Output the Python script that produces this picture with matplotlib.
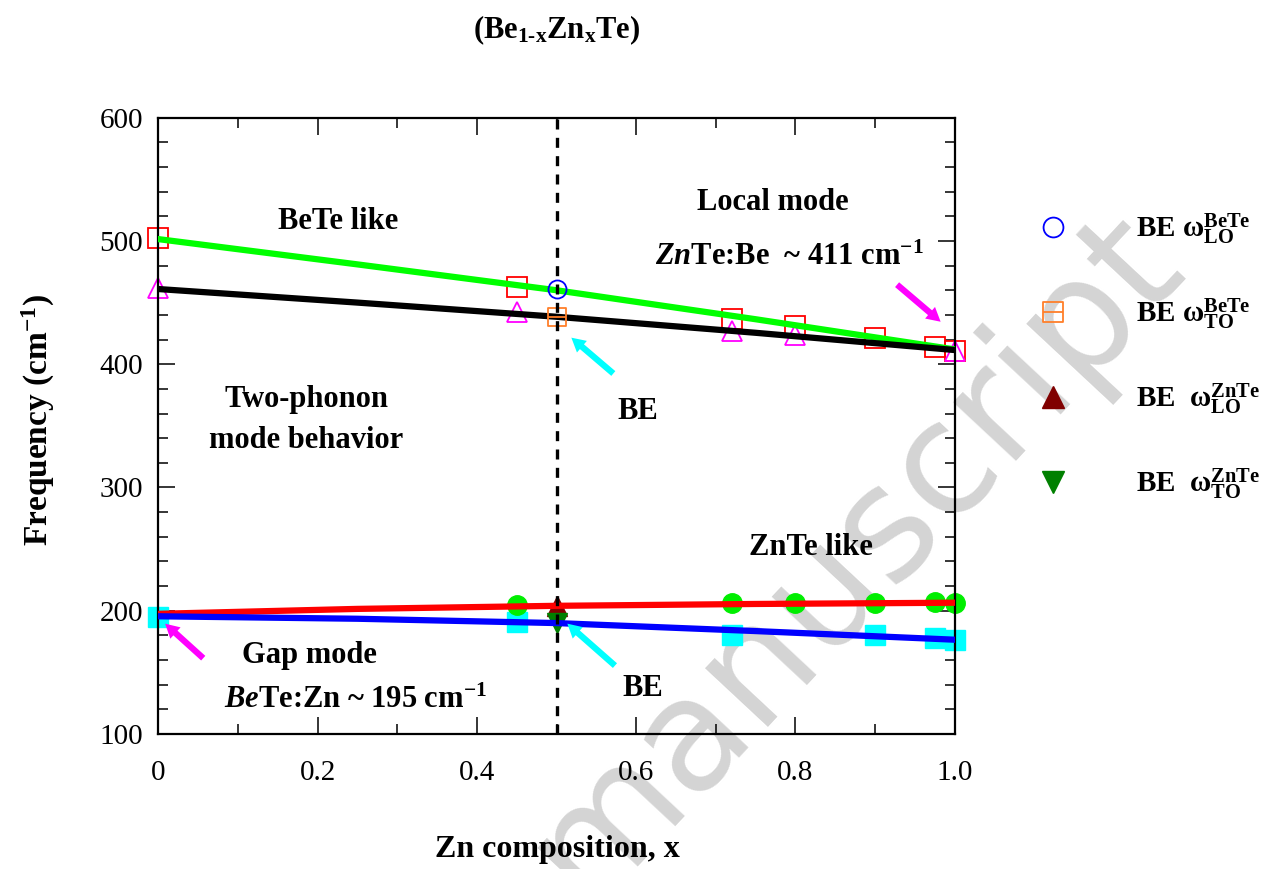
import numpy as np
import matplotlib
matplotlib.use('Agg')
import matplotlib.pyplot as plt
from matplotlib.path import Path
from matplotlib.ticker import MultipleLocator

plt.rcParams['font.family'] = 'Liberation Serif'
plt.rcParams['mathtext.fontset'] = 'custom'
plt.rcParams['mathtext.rm'] = 'Liberation Serif:bold'
plt.rcParams['mathtext.it'] = 'Liberation Serif:italic:bold'
plt.rcParams['mathtext.bf'] = 'Liberation Serif:bold'

x_bete_to = [0.0, 0.45, 0.72, 0.80, 0.90, 0.975, 1.0]
y_bete_to = [502, 463, 437, 431, 421, 414, 411]
x_bete_lo = [0.0, 0.45, 0.72, 0.80, 1.0]
y_bete_lo = [462, 442, 427, 424, 411]
x_znte_lo = [0.45, 0.72, 0.80, 0.90, 0.975, 1.0]
y_znte_lo = [205, 206, 206, 206, 207, 206]
x_znte_to = [0.0, 0.45, 0.72, 0.90, 0.975, 1.0]
y_znte_to = [195, 191, 180, 180, 178, 176.5]

# bond-energy (BE) values at x = 0.5
x_be = 0.5
be_bete_lo = 461
be_bete_to = 438
be_znte_lo = 204
be_znte_to = 190

# fitted curves
x_fit = [0.0, 0.25, 0.5, 0.75, 1.0]
fit_green = [501.5, 481, 460, 436.5, 412]
fit_black = [461, 450, 438.5, 425.5, 411.5]
fit_red = [197.5, 201.5, 204, 205.5, 206.5]
fit_blue = [195.5, 193.5, 190, 183.5, 176.5]

xticks = [0, 0.2, 0.4, 0.6, 0.8, 1.0]
xticklabels = ['0', '0.2', '0.4', '0.6', '0.8', '1.0']
yticks = [100, 200, 300, 400, 500, 600]

W, H = 1267, 869
fig = plt.figure(figsize=(W / 100, H / 100), dpi=100)
ax = fig.add_axes([158.3 / W, 1 - 734 / H, 796.4 / W, 616.3 / H])
ax.patch.set_alpha(0)

# watermark, behind everything
fig.text(855 / W, 1 - 556 / H, 'manuscript', family='DejaVu Sans', fontsize=112,
         color='#d4d4d4', rotation=47, ha='center', va='center', zorder=-5)

# square with a middle bar
sq_bar = Path([(-1, -1), (1, -1), (1, 1), (-1, 1), (-1, -1), (-1, 0), (1, 0)],
              [Path.MOVETO, Path.LINETO, Path.LINETO, Path.LINETO, Path.CLOSEPOLY,
               Path.MOVETO, Path.LINETO])

ms = 14
ax.plot(x_bete_to, y_bete_to, 's', ms=ms, mfc='none', mec='#ff0000', mew=1.3, zorder=2, clip_on=False)
ax.plot(x_bete_lo, y_bete_lo, '^', ms=ms, mfc='none', mec='#ff00ff', mew=1.3, zorder=2, clip_on=False)
ax.plot(x_znte_to, y_znte_to, 's', ms=ms, color='#00ffff', zorder=2, clip_on=False)
ax.plot(x_znte_lo, y_znte_lo, 'o', ms=ms, color='#00ee00', zorder=2, clip_on=False)

ax.plot(x_fit, fit_green, color='#00ff00', lw=4.5, zorder=3)
ax.plot(x_fit, fit_black, color='black', lw=4.5, zorder=3)
ax.plot(x_fit, fit_red, color='#ff0000', lw=4.5, zorder=3)
ax.plot(x_fit, fit_blue, color='#0000ff', lw=4.5, zorder=3)

h1, = ax.plot([x_be], [be_bete_lo], 'o', ms=13, mfc='none', mec='#0000ff', mew=1.3, zorder=4)
h2, = ax.plot([x_be], [be_bete_to], marker=sq_bar, ls='none', ms=13, mfc='none', mec='#ff7f2a', mew=1.3, zorder=4)
h3, = ax.plot([x_be], [be_znte_lo], '^', ms=14, color='#800000', zorder=2)
h4, = ax.plot([x_be], [be_znte_to], 'v', ms=14, color='#008000', zorder=2)

ax.axvline(0.5, color='black', lw=2.4, ls=(0, (3, 2.5)), zorder=5)

ax.set_xlim(0, 1.0)
ax.set_ylim(100, 600)
ax.set_xticks(xticks)
ax.set_xticklabels(xticklabels)
ax.set_yticks(yticks)
ax.xaxis.set_minor_locator(MultipleLocator(0.1))
ax.yaxis.set_minor_locator(MultipleLocator(20))
ax.tick_params(which='both', direction='in', top=True, right=True, width=1.1, labelsize=21)
ax.tick_params(which='major', length=12)
ax.tick_params(which='minor', length=7.5)
ax.tick_params(axis='x', pad=19)
ax.tick_params(axis='y', pad=11)
for s in ax.spines.values():
    s.set_linewidth(1.6)

# arrows
def arrow(tail, head, col):
    ax.annotate('', xy=head, xytext=tail, zorder=6,
                arrowprops=dict(arrowstyle='simple,head_length=1.0,head_width=1.1,tail_width=0.45',
                                color=col, lw=0))

arrow((0.925, 466), (0.985, 433), '#ff00ff')
arrow((0.059, 160), (0.006, 191), '#ff00ff')
arrow((0.574, 391), (0.516, 423), '#00ffff')
arrow((0.576, 154), (0.511, 191), '#00ffff')

kw = dict(fontsize=22, fontweight='bold', ha='center', va='center', zorder=7)
ax.text(0.226, 516, 'BeTe like', **kw)
ax.text(0.772, 531, 'Local mode', **kw)
ax.text(0.792, 487, r'$\mathit{Zn}$Te:Be  ~ 411 cm$^{-1}$', **kw)
ax.text(0.186, 371, 'Two-phonon', **kw)
ax.text(0.186, 338, 'mode behavior', **kw)
ax.text(0.602, 362, 'BE', **kw)
ax.text(0.819, 251, 'ZnTe like', **kw)
ax.text(0.19, 164, 'Gap mode', **kw)
ax.text(0.247, 127, r'$\mathit{Be}$Te:Zn ~ 195 cm$^{-1}$', **kw)
ax.text(0.608, 137, 'BE', **kw)

fig.text(557 / W, 1 - 30 / H, r'(Be$_{\mathrm{1\text{-}x}}$Zn$_{\mathrm{x}}$Te)', fontsize=22,
         fontweight='bold', ha='center', va='center')
fig.text(557 / W, 1 - 850 / H, 'Zn composition, x', fontsize=23,
         fontweight='bold', ha='center', va='center')
fig.text(38 / W, 1 - 420 / H, r'Frequency (cm$^{-1}$)', fontsize=24,
         fontweight='bold', ha='center', va='center', rotation=90)

labels = [r'BE $\mathrm{\omega}^{\mathrm{BeTe}}_{\mathrm{LO}}$', r'BE $\mathrm{\omega}^{\mathrm{BeTe}}_{\mathrm{TO}}$',
          r'BE  $\mathrm{\omega}^{\mathrm{ZnTe}}_{\mathrm{LO}}$', r'BE  $\mathrm{\omega}^{\mathrm{ZnTe}}_{\mathrm{TO}}$']
ax.legend([h1, h2, h3, h4], labels, loc='upper left', bbox_to_anchor=(1.072, 0.89),
          frameon=False, prop={'size': 21, 'weight': 'bold'}, handlelength=1.0,
          handletextpad=2.35, labelspacing=1.69, numpoints=1, markerscale=1.1)

fig.savefig('out.png', dpi=100)
